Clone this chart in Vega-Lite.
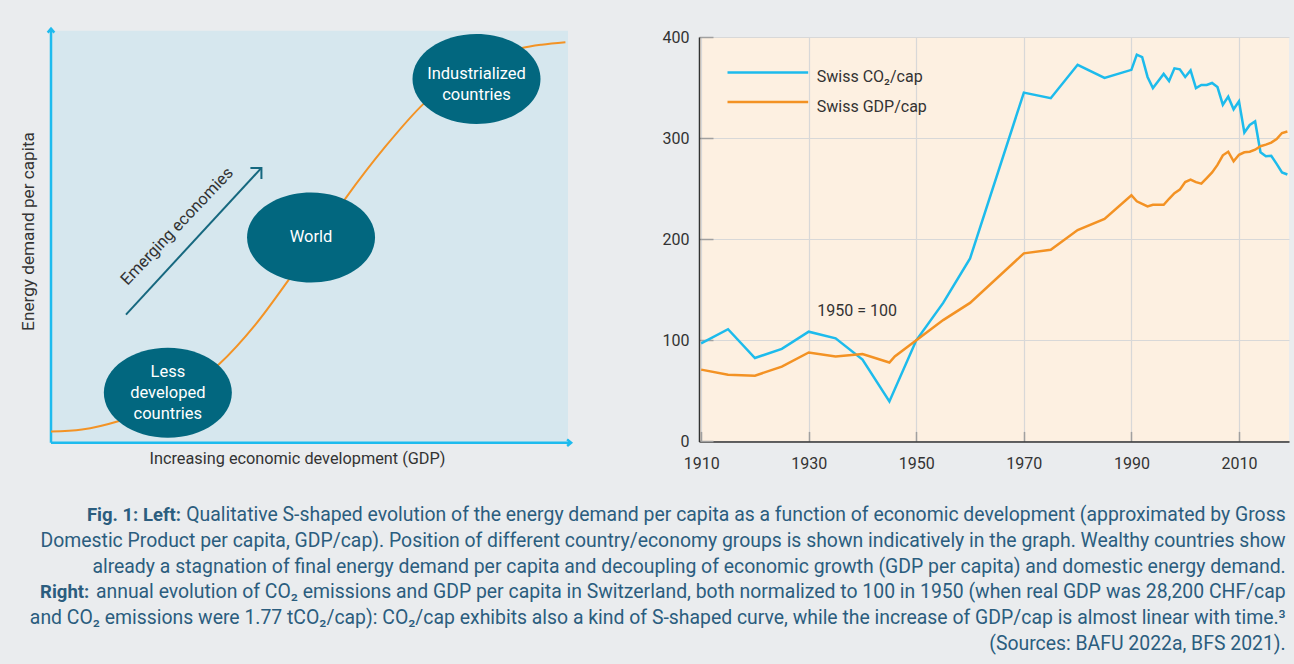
{
  "$schema": "https://vega.github.io/schema/vega-lite/v6.json",
  "background": "#eaecee",
  "padding": {"left": 19, "top": 23, "right": 6, "bottom": 8},
  "config": {
    "font": "Roboto",
    "view": {"stroke": null},
    "axis": {"labelFont": "Roboto", "titleFont": "Roboto"}
  },
  "datasets": {
    "panel": [{"x": 0, "x2": 100, "y": 0, "y2": 100}],
    "axes": [
      {"x": 0, "y": 0, "x2": 100.6, "y2": 0},
      {"x": 0, "y": 0, "x2": 0, "y2": 100.5}
    ],
    "tipUp": [{"x": 0, "y": 100.5}],
    "tipRight": [{"x": 100.6, "y": 0}],
    "curve": [
      {"x": 0, "y": 2.7}, {"x": 6, "y": 3.2}, {"x": 13, "y": 5.2}, {"x": 20, "y": 8.5},
      {"x": 26, "y": 12.5}, {"x": 32.4, "y": 18.9}, {"x": 39.5, "y": 28.6}, {"x": 46, "y": 39.6},
      {"x": 51.5, "y": 49.5}, {"x": 56.9, "y": 59.2}, {"x": 64.7, "y": 71.9}, {"x": 72.1, "y": 82.3},
      {"x": 80, "y": 90}, {"x": 86, "y": 93.8}, {"x": 91.1, "y": 95.8}, {"x": 94.9, "y": 96.6},
      {"x": 99.5, "y": 97.2}
    ],
    "groups": [
      {"group": "Less developed countries", "ex": 22.6, "ey": 12.1, "tx": 22.6, "ty": 17.06, "label": "Less|developed|countries"},
      {"group": "World", "ex": 50.3, "ey": 49.8, "tx": 50.3, "ty": 50.0, "label": "World"},
      {"group": "Industrialized countries", "ex": 82.3, "ey": 88.3, "tx": 82.3, "ty": 89.56, "label": "Industrialized|countries"}
    ],
    "emerging": [{"x": 14.5, "y": 31.1, "x2": 40.7, "y2": 66.7}],
    "emergingTip": [{"x": 40.7, "y": 66.7}],
    "emergingLabel": [{"x": 24.4, "y": 52.5, "text": "Emerging economies"}],
    "series": [
      {"series": "Swiss CO₂/cap", "year": 1910, "value": 97},
      {"series": "Swiss CO₂/cap", "year": 1915, "value": 111},
      {"series": "Swiss CO₂/cap", "year": 1920, "value": 82.5},
      {"series": "Swiss CO₂/cap", "year": 1925, "value": 91.5},
      {"series": "Swiss CO₂/cap", "year": 1930, "value": 108.5},
      {"series": "Swiss CO₂/cap", "year": 1935, "value": 102},
      {"series": "Swiss CO₂/cap", "year": 1940, "value": 81},
      {"series": "Swiss CO₂/cap", "year": 1945, "value": 39.5},
      {"series": "Swiss CO₂/cap", "year": 1950, "value": 100},
      {"series": "Swiss CO₂/cap", "year": 1955, "value": 137},
      {"series": "Swiss CO₂/cap", "year": 1960, "value": 181},
      {"series": "Swiss CO₂/cap", "year": 1970, "value": 345},
      {"series": "Swiss CO₂/cap", "year": 1975, "value": 339.5},
      {"series": "Swiss CO₂/cap", "year": 1980, "value": 372.5},
      {"series": "Swiss CO₂/cap", "year": 1985, "value": 359.5},
      {"series": "Swiss CO₂/cap", "year": 1990, "value": 367.5},
      {"series": "Swiss CO₂/cap", "year": 1991, "value": 382.5},
      {"series": "Swiss CO₂/cap", "year": 1992, "value": 380},
      {"series": "Swiss CO₂/cap", "year": 1993, "value": 360.5},
      {"series": "Swiss CO₂/cap", "year": 1994, "value": 349.5},
      {"series": "Swiss CO₂/cap", "year": 1995, "value": 356.5},
      {"series": "Swiss CO₂/cap", "year": 1996, "value": 363.5},
      {"series": "Swiss CO₂/cap", "year": 1997, "value": 356.5},
      {"series": "Swiss CO₂/cap", "year": 1998, "value": 369},
      {"series": "Swiss CO₂/cap", "year": 1999, "value": 368},
      {"series": "Swiss CO₂/cap", "year": 2000, "value": 360.5},
      {"series": "Swiss CO₂/cap", "year": 2001, "value": 367},
      {"series": "Swiss CO₂/cap", "year": 2002, "value": 349.5},
      {"series": "Swiss CO₂/cap", "year": 2003, "value": 352.5},
      {"series": "Swiss CO₂/cap", "year": 2004, "value": 352.5},
      {"series": "Swiss CO₂/cap", "year": 2005, "value": 354.5},
      {"series": "Swiss CO₂/cap", "year": 2006, "value": 350.5},
      {"series": "Swiss CO₂/cap", "year": 2007, "value": 333},
      {"series": "Swiss CO₂/cap", "year": 2008, "value": 341},
      {"series": "Swiss CO₂/cap", "year": 2009, "value": 328.5},
      {"series": "Swiss CO₂/cap", "year": 2010, "value": 336.5},
      {"series": "Swiss CO₂/cap", "year": 2011, "value": 305.5},
      {"series": "Swiss CO₂/cap", "year": 2012, "value": 313},
      {"series": "Swiss CO₂/cap", "year": 2013, "value": 316.5},
      {"series": "Swiss CO₂/cap", "year": 2014, "value": 286},
      {"series": "Swiss CO₂/cap", "year": 2015, "value": 282},
      {"series": "Swiss CO₂/cap", "year": 2016, "value": 282.5},
      {"series": "Swiss CO₂/cap", "year": 2017, "value": 274.5},
      {"series": "Swiss CO₂/cap", "year": 2018, "value": 266},
      {"series": "Swiss CO₂/cap", "year": 2019, "value": 264},
      {"series": "Swiss GDP/cap", "year": 1910, "value": 71},
      {"series": "Swiss GDP/cap", "year": 1915, "value": 66},
      {"series": "Swiss GDP/cap", "year": 1920, "value": 65},
      {"series": "Swiss GDP/cap", "year": 1925, "value": 74},
      {"series": "Swiss GDP/cap", "year": 1930, "value": 88},
      {"series": "Swiss GDP/cap", "year": 1935, "value": 84},
      {"series": "Swiss GDP/cap", "year": 1940, "value": 86.5},
      {"series": "Swiss GDP/cap", "year": 1945, "value": 78},
      {"series": "Swiss GDP/cap", "year": 1946, "value": 84},
      {"series": "Swiss GDP/cap", "year": 1950, "value": 100},
      {"series": "Swiss GDP/cap", "year": 1955, "value": 120},
      {"series": "Swiss GDP/cap", "year": 1960, "value": 137},
      {"series": "Swiss GDP/cap", "year": 1970, "value": 186},
      {"series": "Swiss GDP/cap", "year": 1975, "value": 189.5},
      {"series": "Swiss GDP/cap", "year": 1980, "value": 209},
      {"series": "Swiss GDP/cap", "year": 1985, "value": 220},
      {"series": "Swiss GDP/cap", "year": 1990, "value": 243.5},
      {"series": "Swiss GDP/cap", "year": 1991, "value": 237.5},
      {"series": "Swiss GDP/cap", "year": 1992, "value": 235},
      {"series": "Swiss GDP/cap", "year": 1993, "value": 232.5},
      {"series": "Swiss GDP/cap", "year": 1994, "value": 234},
      {"series": "Swiss GDP/cap", "year": 1995, "value": 234},
      {"series": "Swiss GDP/cap", "year": 1996, "value": 234},
      {"series": "Swiss GDP/cap", "year": 1997, "value": 240},
      {"series": "Swiss GDP/cap", "year": 1998, "value": 245.5},
      {"series": "Swiss GDP/cap", "year": 1999, "value": 249},
      {"series": "Swiss GDP/cap", "year": 2000, "value": 256.5},
      {"series": "Swiss GDP/cap", "year": 2001, "value": 259},
      {"series": "Swiss GDP/cap", "year": 2002, "value": 256.5},
      {"series": "Swiss GDP/cap", "year": 2003, "value": 255},
      {"series": "Swiss GDP/cap", "year": 2004, "value": 260.5},
      {"series": "Swiss GDP/cap", "year": 2005, "value": 266},
      {"series": "Swiss GDP/cap", "year": 2006, "value": 273.5},
      {"series": "Swiss GDP/cap", "year": 2007, "value": 283},
      {"series": "Swiss GDP/cap", "year": 2008, "value": 286.5},
      {"series": "Swiss GDP/cap", "year": 2009, "value": 277},
      {"series": "Swiss GDP/cap", "year": 2010, "value": 283.5},
      {"series": "Swiss GDP/cap", "year": 2011, "value": 286},
      {"series": "Swiss GDP/cap", "year": 2012, "value": 286.5},
      {"series": "Swiss GDP/cap", "year": 2013, "value": 288.5},
      {"series": "Swiss GDP/cap", "year": 2014, "value": 292},
      {"series": "Swiss GDP/cap", "year": 2015, "value": 293.5},
      {"series": "Swiss GDP/cap", "year": 2016, "value": 295.5},
      {"series": "Swiss GDP/cap", "year": 2017, "value": 299},
      {"series": "Swiss GDP/cap", "year": 2018, "value": 305},
      {"series": "Swiss GDP/cap", "year": 2019, "value": 306.5}
    ],
    "legend": [
      {"series": "Swiss CO₂/cap", "x": 1914.9, "x2": 1929.9, "y": 365, "tx": 1931.5, "ty": 360.4},
      {"series": "Swiss GDP/cap", "x": 1914.9, "x2": 1929.9, "y": 335.7, "tx": 1931.5, "ty": 330.7}
    ],
    "note": [{"x": 1931.6, "y": 129.3, "text": "1950 = 100"}],
    "caption": [
      {"line": 1, "pos": 1, "text": "Qualitative S-shaped evolution of the energy demand per capita as a function of economic development (approximated by Gross"},
      {"line": 2, "pos": 1, "text": "Domestic Product per capita, GDP/cap). Position of different country/economy groups is shown indicatively in the graph. Wealthy countries show"},
      {"line": 3, "pos": 1, "text": "already a stagnation of final energy demand per capita and decoupling of economic growth (GDP per capita) and domestic energy demand."},
      {"line": 4, "pos": 1, "text": "annual evolution of CO₂ emissions and GDP per capita in Switzerland, both normalized to 100 in 1950 (when real GDP was 28,200 CHF/cap"},
      {"line": 5, "pos": 1, "text": "and CO₂ emissions were 1.77 tCO₂/cap): CO₂/cap exhibits also a kind of S-shaped curve, while the increase of GDP/cap is almost linear with time.³"},
      {"line": 6, "pos": 1, "text": "(Sources: BAFU 2022a, BFS 2021)."}
    ],
    "captionBold": [
      {"line": 1, "pos": 0.1053, "text": "Fig. 1: Left:"},
      {"line": 4, "pos": 0.031, "text": "Right:"}
    ]
  },
  "spacing": 30,
  "vconcat": [
    {
      "spacing": 131,
      "bounds": "flush",
      "hconcat": [
        {
          "width": 517,
          "height": 405.7,
          "layer": [
            {
              "data": {"name": "panel"},
              "mark": {"type": "rect", "color": "#d6e7ee"},
              "encoding": {
                "x": {"field": "x", "type": "quantitative", "scale": {"domain": [0, 100], "nice": false, "zero": false},
                  "axis": {"title": "Increasing economic development (GDP)", "labels": false, "ticks": false, "domain": false, "grid": false,
                    "titleFontSize": 16.3, "titleFontWeight": "normal", "titleColor": "#333333", "titlePadding": 8, "titleX": 246}},
                "y": {"field": "y", "type": "quantitative", "scale": {"domain": [0, 98.47], "nice": false, "zero": false},
                  "axis": {"title": "Energy demand per capita", "labels": false, "ticks": false, "domain": false, "grid": false,
                    "titleFontSize": 17.2, "titleFontWeight": "normal", "titleColor": "#333333", "titlePadding": 14, "titleY": 194}},
                "x2": {"field": "x2"},
                "y2": {"field": "y2"}
              }
            },
            {
              "data": {"name": "axes"},
              "mark": {"type": "rule", "color": "#1ebbee", "strokeWidth": 2.5},
              "encoding": {
                "x": {"field": "x", "type": "quantitative"},
                "y": {"field": "y", "type": "quantitative"},
                "x2": {"field": "x2"},
                "y2": {"field": "y2"}
              }
            },
            {
              "data": {"name": "tipUp"},
              "mark": {"type": "point", "shape": "M -1 1.2 L 0 0 L 1 1.2", "filled": false, "size": 44, "strokeWidth": 2.5, "color": "#1ebbee", "opacity": 1},
              "encoding": {"x": {"field": "x", "type": "quantitative"}, "y": {"field": "y", "type": "quantitative"}}
            },
            {
              "data": {"name": "tipRight"},
              "mark": {"type": "point", "shape": "M -1.2 -1 L 0 0 L -1.2 1", "filled": false, "size": 44, "strokeWidth": 2.5, "color": "#1ebbee", "opacity": 1},
              "encoding": {"x": {"field": "x", "type": "quantitative"}, "y": {"field": "y", "type": "quantitative"}}
            },
            {
              "data": {"name": "curve"},
              "mark": {"type": "line", "color": "#f39325", "strokeWidth": 2, "interpolate": "monotone"},
              "encoding": {"x": {"field": "x", "type": "quantitative"}, "y": {"field": "y", "type": "quantitative"}}
            },
            {
              "data": {"name": "emerging"},
              "mark": {"type": "rule", "color": "#16687f", "strokeWidth": 2},
              "encoding": {"x": {"field": "x", "type": "quantitative"}, "y": {"field": "y", "type": "quantitative"}, "x2": {"field": "x2"}, "y2": {"field": "y2"}}
            },
            {
              "data": {"name": "emergingTip"},
              "mark": {"type": "point", "shape": "M -1 0 L 0 0 L 0 1", "filled": false, "size": 484, "strokeWidth": 2, "color": "#16687f", "opacity": 1},
              "encoding": {"x": {"field": "x", "type": "quantitative"}, "y": {"field": "y", "type": "quantitative"}}
            },
            {
              "data": {"name": "emergingLabel"},
              "mark": {"type": "text", "angle": 313.5, "fontSize": 16.5, "color": "#333333", "align": "center", "baseline": "middle"},
              "encoding": {"x": {"field": "x", "type": "quantitative"}, "y": {"field": "y", "type": "quantitative"}, "text": {"field": "text"}}
            },
            {
              "data": {"name": "groups"},
              "mark": {"type": "point", "shape": "M -1 0 A 1 0.703 0 1 0 1 0 A 1 0.703 0 1 0 -1 0 Z", "filled": true, "size": 16384, "color": "#02677f", "opacity": 1},
              "encoding": {"x": {"field": "ex", "type": "quantitative"}, "y": {"field": "ey", "type": "quantitative"}}
            },
            {
              "data": {"name": "groups"},
              "mark": {"type": "text", "color": "white", "fontSize": 16.5, "lineBreak": "|", "lineHeight": 21, "align": "center", "baseline": "middle"},
              "encoding": {"x": {"field": "tx", "type": "quantitative"}, "y": {"field": "ty", "type": "quantitative"}, "text": {"field": "label"}}
            }
          ]
        },
        {
          "width": 590,
          "height": 404.4,
          "view": {"fill": "#fdf0e1", "stroke": null},
          "layer": [
            {
              "data": {"name": "series"},
              "mark": {"type": "line", "strokeWidth": 2.5},
              "encoding": {
                "x": {"field": "year", "type": "quantitative", "scale": {"domain": [1909.6, 2019.3], "nice": false, "zero": false},
                  "axis": {"title": null, "values": [1910, 1930, 1950, 1970, 1990, 2010], "format": "d", "grid": true, "gridColor": "#d8d8d8", "gridWidth": 1.2,
                    "domainColor": "#333333", "domainWidth": 1.5, "tickSize": -10, "tickColor": "#a0a0a0", "tickWidth": 1.5,
                    "labelPadding": 24, "labelFontSize": 16, "labelColor": "#333333"}},
                "y": {"field": "value", "type": "quantitative", "scale": {"domain": [0, 400], "nice": false},
                  "axis": {"title": null, "values": [0, 100, 200, 300, 400], "grid": true, "gridColor": "#d8d8d8", "gridWidth": 1.2,
                    "domainColor": "#333333", "domainWidth": 1.5, "tickSize": -14, "tickColor": "#a0a0a0", "tickWidth": 1.5,
                    "labelPadding": 24, "labelFontSize": 16, "labelColor": "#333333"}},
                "color": {"field": "series", "type": "nominal", "scale": {"domain": ["Swiss CO₂/cap", "Swiss GDP/cap"], "range": ["#1dbbec", "#f39224"]}, "legend": null}
              }
            },
            {
              "data": {"name": "legend"},
              "mark": {"type": "rule", "strokeWidth": 2.5},
              "encoding": {
                "x": {"field": "x", "type": "quantitative"}, "x2": {"field": "x2"},
                "y": {"field": "y", "type": "quantitative"},
                "color": {"field": "series", "type": "nominal", "legend": null}
              }
            },
            {
              "data": {"name": "legend"},
              "mark": {"type": "text", "align": "left", "baseline": "middle", "fontSize": 16, "color": "#333333"},
              "encoding": {"x": {"field": "tx", "type": "quantitative"}, "y": {"field": "ty", "type": "quantitative"}, "text": {"field": "series"}}
            },
            {
              "data": {"name": "note"},
              "mark": {"type": "text", "align": "left", "baseline": "middle", "fontSize": 16, "color": "#333333"},
              "encoding": {"x": {"field": "x", "type": "quantitative"}, "y": {"field": "y", "type": "quantitative"}, "text": {"field": "text"}}
            }
          ]
        }
      ]
    },
    {
      "width": 1234.7,
      "height": 155,
      "layer": [
        {
          "data": {"name": "caption"},
          "mark": {"type": "text", "align": "right", "baseline": "middle", "fontSize": 19.4, "color": "#2b5d7e"},
          "encoding": {
            "x": {"field": "pos", "type": "quantitative", "scale": {"domain": [0, 1], "nice": false, "zero": false}, "axis": null},
            "y": {"field": "line", "type": "quantitative", "scale": {"domain": [0.5, 6.5], "reverse": true, "nice": false, "zero": false}, "axis": null},
            "text": {"field": "text"}
          }
        },
        {
          "data": {"name": "captionBold"},
          "mark": {"type": "text", "align": "right", "baseline": "middle", "fontSize": 18.5, "fontWeight": "bold", "color": "#2b5d7e"},
          "encoding": {
            "x": {"field": "pos", "type": "quantitative"},
            "y": {"field": "line", "type": "quantitative"},
            "text": {"field": "text"}
          }
        }
      ]
    }
  ]
}
